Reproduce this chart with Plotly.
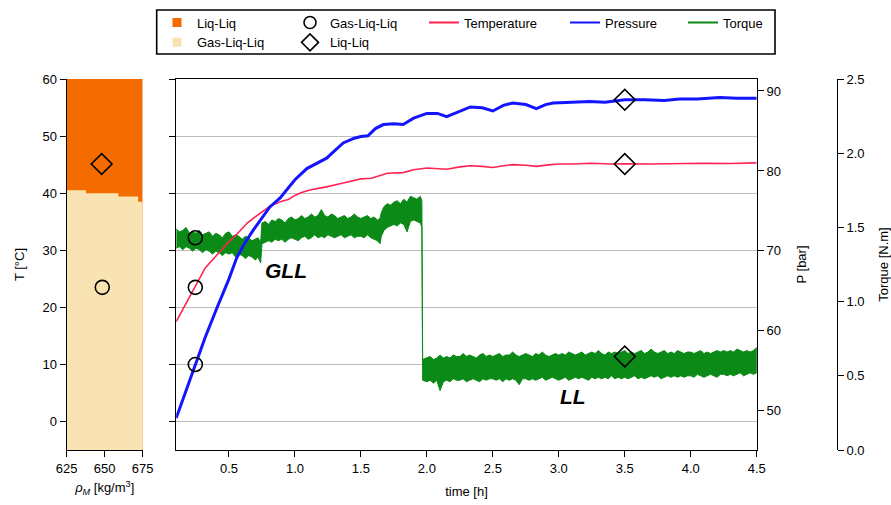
import plotly.graph_objects as go

W, H = 891, 505
FONT = "Arial, Liberation Sans, sans-serif"
C_ORANGE = "#F46C00"
C_BEIGE = "#FAE3B3"
C_RED = "#FF2352"
C_BLUE = "#1414FF"
C_GREEN = "#0B8A17"
C_GRID = "#BDBDBD"

# ---------------- data ----------------
rho_edges = [625, 637.7, 659, 672, 675]
T_boundary = [40.5, 40.0, 39.4, 38.5]
rho_range = [625, 675]
T_range = [-5, 60]
left_circle = (648.4, 23.5)
left_diamond = (648.0, 45.1)

# temperature [°C]
t_T = [0.10, 0.17, 0.245, 0.32, 0.41, 0.50, 0.56, 0.64, 0.72, 0.81, 0.90, 0.95, 1.00, 1.05,
       1.12, 1.24, 1.35, 1.45, 1.50, 1.58, 1.70, 1.82, 1.90, 2.00, 2.08, 2.15, 2.25, 2.33,
       2.42, 2.50, 2.58, 2.65, 2.75, 2.83, 2.92, 3.00, 3.10, 3.24, 3.40, 3.50, 3.70, 3.90,
       4.10, 4.30, 4.50]
T_vals = [17.5, 20.5, 23.5, 26.9, 29.2, 31.5, 32.8, 34.8, 36.2, 37.7, 38.6, 38.9, 39.6, 40.1,
          40.6, 41.1, 41.7, 42.3, 42.5, 42.6, 43.5, 43.6, 44.1, 44.4, 44.3, 44.2, 44.6, 44.8,
          44.7, 44.5, 44.8, 45.0, 44.9, 44.7, 44.95, 45.1, 45.1, 45.25, 45.1, 45.15, 45.1, 45.2,
          45.25, 45.2, 45.3]

# pressure [bar]
t_P = [0.10, 0.17, 0.245, 0.32, 0.407, 0.50, 0.558, 0.62, 0.684, 0.75, 0.81, 0.886, 0.937,
       1.00, 1.09, 1.17, 1.24, 1.30, 1.366, 1.45, 1.50, 1.553, 1.61, 1.67, 1.75, 1.82, 1.90,
       2.00, 2.08, 2.15, 2.25, 2.33, 2.42, 2.50, 2.58, 2.65, 2.75, 2.83, 2.90, 2.957, 3.10,
       3.235, 3.35, 3.50, 3.65, 3.80, 3.915, 4.05, 4.22, 4.35, 4.50]
P_vals = [49.1, 52.4, 55.8, 59.2, 62.8, 66.5, 69.1, 71.0, 72.6, 74.2, 75.5, 76.6, 77.6,
          78.9, 80.3, 81.0, 81.6, 82.5, 83.5, 84.1, 84.3, 84.4, 85.3, 85.8, 85.9, 85.8, 86.6,
          87.2, 87.2, 86.8, 87.5, 88.0, 87.9, 87.5, 88.2, 88.5, 88.3, 87.8, 88.3, 88.5, 88.6,
          88.7, 88.6, 88.9, 88.9, 88.8, 89.0, 89.0, 89.2, 89.1, 89.1]

# torque [N.m]: upper / lower envelope of the noisy signal, per regime
t_tq_gll1 = [0.100, 0.125, 0.150, 0.175, 0.200, 0.225, 0.250, 0.275, 0.300, 0.325,
             0.350, 0.375, 0.400, 0.425, 0.450, 0.475, 0.500, 0.525, 0.550, 0.575,
             0.600, 0.625, 0.650, 0.675, 0.700, 0.720, 0.740]
up_gll1 = [1.49, 1.47, 1.48, 1.50, 1.46, 1.47, 1.46, 1.48, 1.45, 1.46,
           1.47, 1.44, 1.46, 1.45, 1.43, 1.46, 1.47, 1.44, 1.45, 1.44,
           1.42, 1.44, 1.43, 1.41, 1.42, 1.43, 1.40]
low_gll1 = [1.36, 1.37, 1.35, 1.37, 1.36, 1.34, 1.36, 1.35, 1.33, 1.35,
            1.34, 1.32, 1.34, 1.33, 1.31, 1.33, 1.32, 1.33, 1.30, 1.32,
            1.31, 1.29, 1.31, 1.30, 1.28, 1.30, 1.26]

t_tq_gll2 = [0.750, 0.775, 0.800, 0.825, 0.850, 0.875, 0.900, 0.925, 0.950, 0.975,
             1.000, 1.025, 1.050, 1.075, 1.100, 1.125, 1.150, 1.175, 1.200, 1.225,
             1.250, 1.275, 1.300, 1.325, 1.350, 1.375, 1.400, 1.425, 1.450, 1.475,
             1.500, 1.525, 1.550, 1.575, 1.600, 1.625, 1.645]
up_gll2 = [1.53, 1.54, 1.52, 1.55, 1.54, 1.56, 1.55, 1.53, 1.56, 1.57,
           1.55, 1.56, 1.58, 1.56, 1.57, 1.59, 1.57, 1.58, 1.62, 1.58,
           1.57, 1.59, 1.58, 1.56, 1.57, 1.58, 1.56, 1.57, 1.59, 1.57,
           1.56, 1.57, 1.58, 1.56, 1.57, 1.55, 1.56]
low_gll2 = [1.39, 1.40, 1.41, 1.40, 1.42, 1.41, 1.42, 1.40, 1.42, 1.43,
            1.42, 1.41, 1.43, 1.44, 1.42, 1.43, 1.45, 1.43, 1.44, 1.43,
            1.45, 1.44, 1.43, 1.44, 1.45, 1.43, 1.44, 1.45, 1.43, 1.44,
            1.44, 1.43, 1.45, 1.43, 1.42, 1.41, 1.39]

t_tq_rise = [1.655, 1.675, 1.700, 1.725, 1.750, 1.775, 1.800, 1.825, 1.850, 1.875,
             1.900, 1.925, 1.950, 1.962]
up_rise = [1.60, 1.64, 1.66, 1.65, 1.67, 1.68, 1.66, 1.69, 1.67, 1.71,
           1.70, 1.69, 1.71, 1.68]
low_rise = [1.44, 1.48, 1.50, 1.51, 1.52, 1.51, 1.53, 1.52, 1.47, 1.54,
            1.55, 1.54, 1.53, 1.50]

t_tq_ll = [1.968,
           2.000, 2.025, 2.050, 2.075, 2.100, 2.125, 2.150, 2.175, 2.200, 2.225,
           2.250, 2.275, 2.300, 2.325, 2.350, 2.375, 2.400, 2.425, 2.450, 2.475,
           2.500, 2.525, 2.550, 2.575, 2.600, 2.625, 2.650, 2.675, 2.700, 2.725,
           2.750, 2.775, 2.800, 2.825, 2.850, 2.875, 2.900, 2.925, 2.950, 2.975,
           3.000, 3.025, 3.050, 3.075, 3.100, 3.125, 3.150, 3.175, 3.200, 3.225,
           3.250, 3.275, 3.300, 3.325, 3.350, 3.375, 3.400, 3.425, 3.450, 3.475,
           3.500, 3.525, 3.550, 3.575, 3.600, 3.625, 3.650, 3.675, 3.700, 3.725,
           3.750, 3.775, 3.800, 3.825, 3.850, 3.875, 3.900, 3.925, 3.950, 3.975,
           4.000, 4.025, 4.050, 4.075, 4.100, 4.125, 4.150, 4.175, 4.200, 4.225,
           4.250, 4.275, 4.300, 4.325, 4.350, 4.375, 4.400, 4.425, 4.450, 4.475,
           4.500]
up_ll = [0.61,
         0.62, 0.63, 0.61, 0.62, 0.64, 0.62, 0.63, 0.62, 0.64, 0.63,
         0.63, 0.65, 0.63, 0.64, 0.63, 0.62, 0.64, 0.65, 0.63, 0.64,
         0.63, 0.64, 0.65, 0.63, 0.64, 0.64, 0.66, 0.64, 0.63, 0.64,
         0.65, 0.64, 0.63, 0.65, 0.64, 0.66, 0.64, 0.63, 0.64, 0.65,
         0.64, 0.65, 0.64, 0.66, 0.65, 0.64, 0.65, 0.66, 0.64, 0.65,
         0.66, 0.65, 0.67, 0.65, 0.64, 0.66, 0.65, 0.66, 0.65, 0.66,
         0.67, 0.65, 0.66, 0.65, 0.66, 0.67, 0.65, 0.66, 0.68, 0.66,
         0.65, 0.66, 0.67, 0.65, 0.66, 0.65, 0.67, 0.66, 0.65, 0.66,
         0.66, 0.65, 0.66, 0.67, 0.65, 0.66, 0.65, 0.66, 0.67, 0.66,
         0.67, 0.66, 0.67, 0.66, 0.68, 0.67, 0.66, 0.67, 0.66, 0.67,
         0.69]
low_ll = [0.47,
          0.46, 0.47, 0.45, 0.47, 0.40, 0.46, 0.47, 0.46, 0.48, 0.47,
          0.47, 0.48, 0.46, 0.47, 0.48, 0.47, 0.46, 0.48, 0.47, 0.48,
          0.48, 0.47, 0.48, 0.46, 0.48, 0.47, 0.48, 0.47, 0.44, 0.48,
          0.48, 0.47, 0.48, 0.47, 0.48, 0.49, 0.47, 0.48, 0.49, 0.48,
          0.47, 0.48, 0.49, 0.47, 0.48, 0.49, 0.48, 0.49, 0.48, 0.47,
          0.49, 0.48, 0.49, 0.48, 0.49, 0.48, 0.50, 0.48, 0.49, 0.48,
          0.49, 0.48, 0.49, 0.50, 0.48, 0.49, 0.48, 0.49, 0.50, 0.49,
          0.50, 0.48, 0.49, 0.50, 0.49, 0.50, 0.49, 0.50, 0.49, 0.50,
          0.50, 0.49, 0.51, 0.50, 0.49, 0.50, 0.51, 0.50, 0.49, 0.51,
          0.51, 0.50, 0.51, 0.50, 0.51, 0.52, 0.50, 0.51, 0.52, 0.51,
          0.52]

t_gll = 0.245
gll_T, gll_P, gll_tq = 23.5, 55.8, 1.43
t_ll = 3.5
ll_T, ll_P, ll_tq = 45.1, 88.9, 0.63

time_ticks = [0.5, 1.0, 1.5, 2.0, 2.5, 3.0, 3.5, 4.0, 4.5]
T_ticks = [0, 10, 20, 30, 40, 50, 60]
P_ticks = [50, 60, 70, 80, 90]
tq_ticks = [0.0, 0.5, 1.0, 1.5, 2.0, 2.5]
rho_ticks = [625, 650, 675]

# ---------------- figure ----------------
def px(x):
    return x / W

def py(y):
    return 1 - y / H

fig = go.Figure()

fig.add_trace(go.Scatter(
    x=[rho_range[0], rho_range[1], rho_range[1], rho_range[0]],
    y=[T_range[1], T_range[1], T_range[0], T_range[0]],
    fill="toself", fillcolor=C_ORANGE, line=dict(width=0), mode="lines",
    showlegend=False, hoverinfo="skip", xaxis="x", yaxis="y"))
bx, by = [rho_edges[0]], [T_range[0]]
for i, tb in enumerate(T_boundary):
    bx += [rho_edges[i], rho_edges[i + 1]]
    by += [tb, tb]
bx += [rho_edges[-1]]
by += [T_range[0]]
fig.add_trace(go.Scatter(
    x=bx, y=by, fill="toself", fillcolor=C_BEIGE, line=dict(width=0), mode="lines",
    showlegend=False, hoverinfo="skip", xaxis="x", yaxis="y"))

mk_circle = dict(symbol="circle-open", size=14, color="black", line=dict(width=1.6))
mk_diam = dict(symbol="diamond-open", size=16, color="black", line=dict(width=1.6))

fig.add_trace(go.Scatter(x=[left_circle[0]], y=[left_circle[1]], mode="markers",
                         marker=mk_circle, showlegend=False, xaxis="x", yaxis="y"))
fig.add_trace(go.Scatter(x=[left_diamond[0]], y=[left_diamond[1]], mode="markers",
                         marker=mk_diam, showlegend=False, xaxis="x", yaxis="y"))

t_tq = t_tq_gll1 + t_tq_gll2 + t_tq_rise + t_tq_ll
tq_up = up_gll1 + up_gll2 + up_rise + up_ll
tq_low = low_gll1 + low_gll2 + low_rise + low_ll
n = min(len(t_tq), len(tq_up), len(tq_low))
t_tq, tq_up, tq_low = t_tq[:n], tq_up[:n], tq_low[:n]

fig.add_trace(go.Scatter(
    x=t_tq + t_tq[::-1], y=tq_up + tq_low[::-1], fill="toself", fillcolor=C_GREEN,
    mode="lines", line=dict(color=C_GREEN, width=1),
    showlegend=False, xaxis="x2", yaxis="y2"))
fig.add_trace(go.Scatter(x=t_T, y=T_vals, mode="lines", line=dict(color=C_RED, width=1.6),
                         showlegend=False, xaxis="x2", yaxis="y3"))
fig.add_trace(go.Scatter(x=t_P, y=P_vals, mode="lines", line=dict(color=C_BLUE, width=3),
                         showlegend=False, xaxis="x2", yaxis="y4"))

fig.add_trace(go.Scatter(x=[t_gll], y=[gll_tq], mode="markers", marker=mk_circle,
                         showlegend=False, xaxis="x2", yaxis="y2"))
fig.add_trace(go.Scatter(x=[t_ll], y=[ll_tq], mode="markers", marker=mk_diam,
                         showlegend=False, xaxis="x2", yaxis="y2"))
fig.add_trace(go.Scatter(x=[t_gll], y=[gll_T], mode="markers", marker=mk_circle,
                         showlegend=False, xaxis="x2", yaxis="y3"))
fig.add_trace(go.Scatter(x=[t_ll], y=[ll_T], mode="markers", marker=mk_diam,
                         showlegend=False, xaxis="x2", yaxis="y3"))
fig.add_trace(go.Scatter(x=[t_gll], y=[gll_P], mode="markers", marker=mk_circle,
                         showlegend=False, xaxis="x2", yaxis="y4"))
fig.add_trace(go.Scatter(x=[t_ll], y=[ll_P], mode="markers", marker=mk_diam,
                         showlegend=False, xaxis="x2", yaxis="y4"))

def leg_marker(name, marker, legend):
    fig.add_trace(go.Scatter(x=[None], y=[None], mode="markers", marker=marker, name=name,
                             legend=legend, xaxis="x2", yaxis="y2"))

def leg_line(name, color, legend):
    fig.add_trace(go.Scatter(x=[None], y=[None], mode="lines", line=dict(color=color, width=2),
                             name=name, legend=legend, xaxis="x2", yaxis="y2"))

leg_marker("Liq-Liq", dict(symbol="square", size=9, color=C_ORANGE), "legend")
leg_marker("Gas-Liq-Liq", dict(symbol="square", size=9, color=C_BEIGE), "legend")
leg_marker("Gas-Liq-Liq", dict(symbol="circle-open", size=12, color="black", line=dict(width=1.6)), "legend2")
leg_marker("Liq-Liq", dict(symbol="diamond-open", size=13, color="black", line=dict(width=1.6)), "legend2")
leg_line("Temperature", C_RED, "legend3")
leg_line("Pressure", C_BLUE, "legend4")
leg_line("Torque", C_GREEN, "legend5")

leg_common = dict(yanchor="top", xanchor="left", bgcolor="rgba(0,0,0,0)", borderwidth=0,
                  font=dict(family=FONT, size=13, color="black"), tracegroupgap=0,
                  orientation="v", y=py(7.5))

ydom = [py(450), py(79)]
axfont = dict(family=FONT, size=13, color="black")
common_ax = dict(showline=True, linecolor="black", linewidth=1.3, ticks="outside",
                 ticklen=6, tickwidth=1.2, tickcolor="black", tickfont=axfont,
                 showgrid=False, zeroline=False)

fig.update_layout(
    width=W, height=H,
    margin=dict(l=0, r=0, t=0, b=0, autoexpand=False),
    paper_bgcolor="white", plot_bgcolor="rgba(0,0,0,0)",
    font=dict(family=FONT, size=13, color="black"),
    legend=dict(**leg_common, x=px(157)),
    legend2=dict(**leg_common, x=px(290)),
    legend3=dict(**leg_common, x=px(424)),
    legend4=dict(**leg_common, x=px(565)),
    legend5=dict(**leg_common, x=px(683)),
    xaxis=dict(**common_ax, domain=[px(66.7), px(142.7)], range=rho_range, tickvals=rho_ticks,
               anchor="y",
               title=dict(text="<i>ρ<sub>M</sub></i> [kg/m<sup>3</sup>]", font=axfont, standoff=8)),
    yaxis=dict(**common_ax, domain=ydom, range=T_range, tickvals=T_ticks, anchor="x",
               title=dict(text="T [°C]", font=axfont, standoff=14)),
    xaxis2=dict(**common_ax, domain=[px(176.2), px(756.7)], range=[0.1, 4.5],
                tickvals=time_ticks, ticktext=[f"{v:.1f}" for v in time_ticks], anchor="y2",
                mirror=True,
                title=dict(text="time [h]", font=axfont, standoff=12)),
    yaxis2=dict(**common_ax, domain=ydom, range=[0, 2.5], tickvals=tq_ticks,
                ticktext=[f"{v:.1f}" for v in tq_ticks], anchor="free", side="right",
                position=px(836.7),
                title=dict(text="Torque [N.m]", font=axfont, standoff=16)),
    yaxis3=dict(**common_ax, domain=ydom, range=T_range, tickvals=T_ticks, showticklabels=False,
                anchor="x2", side="left", overlaying="y2"),
    yaxis4=dict(**common_ax, domain=ydom, range=[45.1, 91.5], tickvals=P_ticks, anchor="x2",
                side="right", overlaying="y2",
                title=dict(text="P [bar]", font=axfont, standoff=16)),
)
fig.update_layout(yaxis3=dict(showgrid=True, gridcolor=C_GRID, gridwidth=1.2))

fig.add_annotation(x=0.93, y=26.5, xref="x2", yref="y3", text="<b><i>GLL</i></b>",
                   showarrow=False, font=dict(family=FONT, size=21, color="black"))
fig.add_annotation(x=3.107, y=4.4, xref="x2", yref="y3", text="<b><i>LL</i></b>",
                   showarrow=False, font=dict(family=FONT, size=21, color="black"))

fig.add_shape(type="rect", xref="paper", yref="paper", x0=px(156.7), x1=px(775),
              y0=py(54), y1=py(10), line=dict(color="black", width=1.6))

fig.write_html("out.html")
